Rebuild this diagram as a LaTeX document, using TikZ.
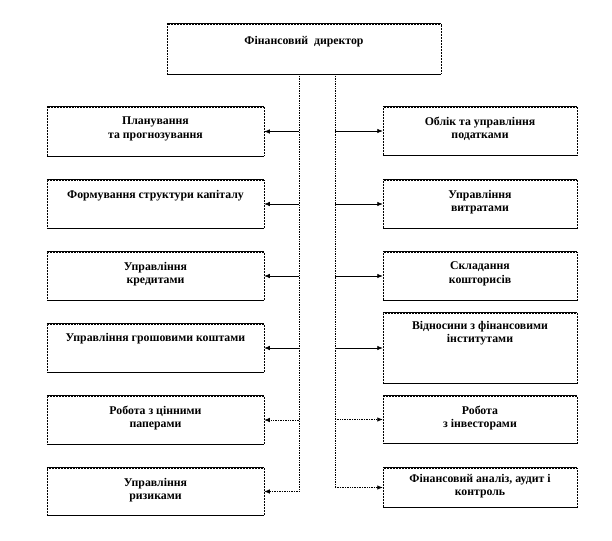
\documentclass[tikz,border=0pt]{standalone}
\usepackage{fontspec}
\setmainfont{Liberation Serif}
\usetikzlibrary{arrows.meta}

\tikzset{
  box/.style={draw, densely dotted, line width=0.5pt, inner sep=0pt,
    append after command={(\tikzlastnode.north west) edge[solid, line width=1pt] (\tikzlastnode.north east)
      (\tikzlastnode.south west) edge[solid, line width=1pt] (\tikzlastnode.south east)}},
  lbox/.style={box, minimum width=217pt, minimum height=48pt},
  rbox/.style={box, minimum width=194pt, minimum height=48pt},
  txt/.style={anchor=north, align=center, inner sep=0pt,
    font=\fontsize{11.8}{13.5}\selectfont\bfseries},
  link/.style={line width=0.7pt, -{Latex[length=5.5pt,width=4.5pt]}},
  dlink/.style={link, densely dotted},
}

\begin{document}
\begin{tikzpicture}[x=1pt, y=-1pt]
\useasboundingbox (0,0) rectangle (612,540);

% director
\node[box, minimum width=274pt, minimum height=50pt] (dir) at (304,49) {};
\node[txt] (dirT) at ([yshift=-12pt]dir.north) {Фінансовий~ директор};

% left column
\node[lbox, minimum height=49pt] (plan) at (155.5,131.5) {};
\node[lbox] (capital) at (155.5,204) {};
\node[lbox] (credit) at (155.5,276) {};
\node[lbox] (cash) at (155.5,348) {};
\node[lbox] (secur) at (155.5,420) {};
\node[lbox, minimum height=47pt] (risk) at (155.5,491.5) {};

\node[txt] (planT) at ([yshift=-10pt]plan.north) {Планування\\та прогнозування};
\node[txt] (capitalT) at ([yshift=-10pt]capital.north) {Формування структури капіталу};
\node[txt] (creditT) at ([yshift=-10pt]credit.north) {Управління\\кредитами};
\node[txt] (cashT) at ([yshift=-9pt]cash.north) {Управління грошовими коштами};
\node[txt] (securT) at ([yshift=-10pt]secur.north) {Робота з цінними\\паперами};
\node[txt] (riskT) at ([yshift=-10pt]risk.north) {Управління\\ризиками};

% right column
\node[rbox] (tax) at (480,131) {};
\node[rbox] (cost) at (480,204) {};
\node[rbox] (budget) at (480,276) {};
\node[rbox, minimum height=70pt] (inst) at (480,348) {};
\node[rbox, minimum height=47pt] (invest) at (480,419.5) {};
\node[rbox, minimum height=39pt] (audit) at (480,487.5) {};

\node[txt] (taxT) at ([yshift=-10pt]tax.north) {Облік та управління\\податками};
\node[txt] (costT) at ([yshift=-10pt]cost.north) {Управління\\витратами};
\node[txt] (budgetT) at ([yshift=-10pt]budget.north) {Складання\\кошторисів};
\node[txt] (instT) at ([yshift=-8pt]inst.north) {Відносини з фінансовими\\інститутами};
\node[txt] (investT) at ([yshift=-10pt]invest.north) {Робота\\з інвесторами};
\node[txt] (auditT) at ([yshift=-6pt]audit.north) {Фінансовий аналіз, аудит і\\контроль};

% buses
\coordinate (lbus) at ([xshift=-5pt]dir.south);
\coordinate (rbus) at ([xshift=31pt]dir.south);

\draw[dlink] (lbus) |- (risk);
\draw[dlink] (rbus) |- (audit);

\draw[link] (lbus |- plan) -- (plan);
\draw[link] (lbus |- capital) -- (capital);
\draw[link] (lbus |- credit) -- (credit);
\draw[link] (lbus |- cash) -- (cash);
\draw[dlink] (lbus |- secur) -- (secur);

\draw[link] (rbus |- tax) -- (tax);
\draw[link] (rbus |- cost) -- (cost);
\draw[link] (rbus |- budget) -- (budget);
\draw[link] (rbus |- inst) -- (inst);
\draw[dlink] (rbus |- invest) -- (invest);
\end{tikzpicture}
\end{document}
